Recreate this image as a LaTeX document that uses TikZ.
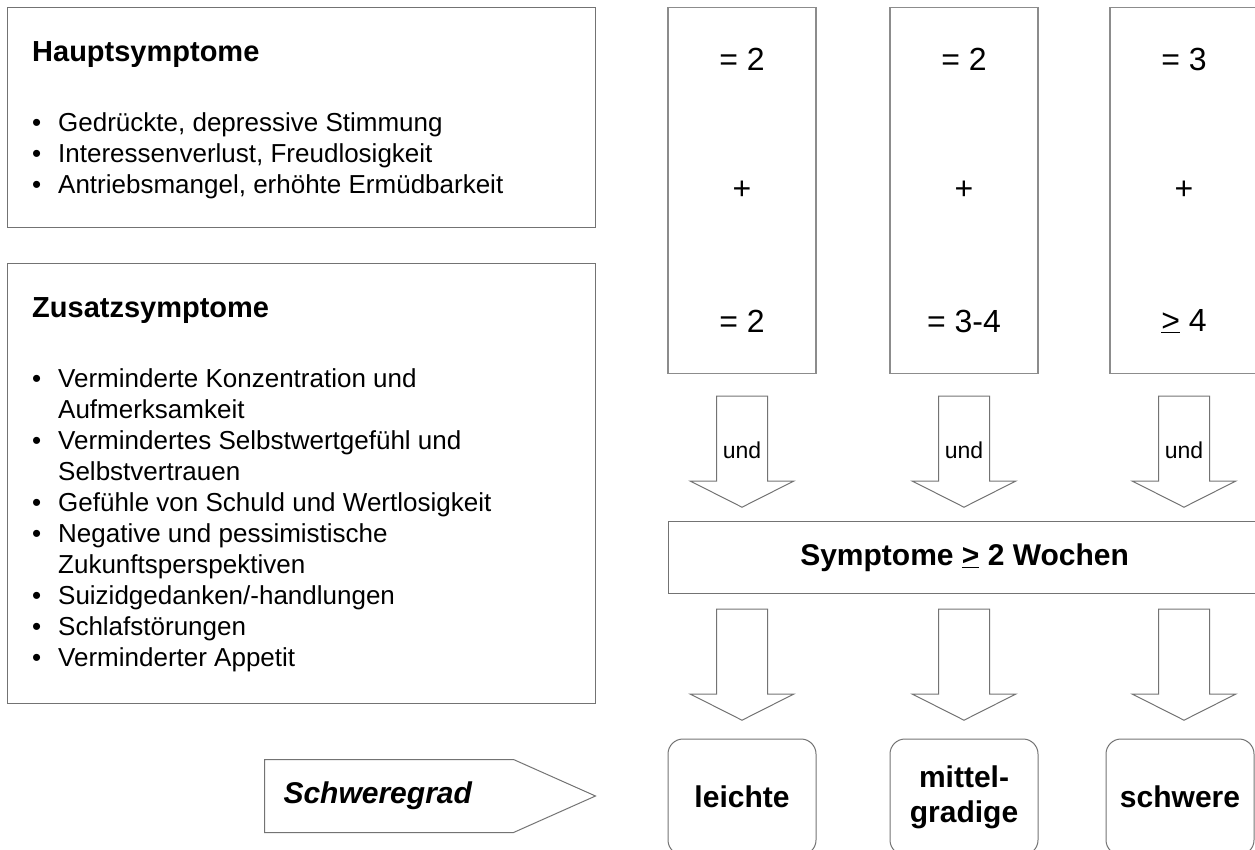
\documentclass[tikz,border=0pt]{standalone}
\usepackage{fontspec}
\setmainfont{Liberation Sans}
\usetikzlibrary{positioning,shapes.symbols}

\newcommand{\titlefont}{\fontsize{29}{34}\selectfont\bfseries}
\newcommand{\bodyfont}{\fontsize{26}{31}\selectfont}
\newcommand{\numfont}{\fontsize{32}{36}\selectfont}
\newcommand{\undfont}{\fontsize{23}{26}\selectfont}
\newcommand{\labelfont}{\fontsize{30}{35}\selectfont\bfseries}
\newcommand{\bul}{\makebox[26pt][l]{\textbullet}}
\newcommand{\ind}{\hspace*{26pt}}
\newcommand{\ugt}{\underline{>}}

\tikzset{
  textbox/.style={draw=black!55, line width=1.2pt, anchor=north west, inner sep=0pt},
  colbox/.style={draw=black!45, line width=1.2pt, anchor=north,
    minimum width=148pt, minimum height=366pt, inner sep=0pt},
  grade/.style={draw=black!55, line width=1pt, rounded corners=15pt,
    minimum width=148pt, minimum height=116pt, align=center, font=\labelfont},
  txtline/.style={anchor=base west, inner sep=0pt, align=left},
  bigarrow/.pic={
    \draw[draw=black!55, line width=1pt] (-25.5,0) -- (25.5,0) -- (25.5,85)
      -- (51.5,85) -- (0,111) -- (-51.5,85) -- (-25.5,85) -- cycle;
  },
}

\begin{document}
\begin{tikzpicture}[x=1pt,y=-1pt]
  \useasboundingbox (0,0) rectangle (1255,849);

  % left: symptom lists
  \node[textbox, minimum width=588pt, minimum height=220pt] (haupt) at (7,7) {};
  \node[txtline, font=\titlefont] (hauptTitle) at (32,61) {Hauptsymptome};
  \node[txtline, font=\bodyfont] (hauptList) at (32,131) {%
    \begin{tabular}[t]{@{}l@{}}
      \bul Gedrückte, depressive Stimmung\\
      \bul Interessenverlust, Freudlosigkeit\\
      \bul Antriebsmangel, erhöhte Ermüdbarkeit
    \end{tabular}};

  \node[textbox, minimum width=588pt, minimum height=440pt] (zusatz) at (7,263) {};
  \node[txtline, font=\titlefont] (zusatzTitle) at (32,317) {Zusatzsymptome};
  \node[txtline, font=\bodyfont] (zusatzList) at (32,387) {%
    \begin{tabular}[t]{@{}l@{}}
      \bul Verminderte Konzentration und\\
      \ind Aufmerksamkeit\\
      \bul Vermindertes Selbstwertgefühl und\\
      \ind Selbstvertrauen\\
      \bul Gefühle von Schuld und Wertlosigkeit\\
      \bul Negative und pessimistische\\
      \ind Zukunftsperspektiven\\
      \bul Suizidgedanken/-handlungen\\
      \bul Schlafstörungen\\
      \bul Verminderter Appetit
    \end{tabular}};

  % right: columns
  \node[textbox, minimum width=592pt, minimum height=72pt, font=\labelfont]
    (sympt) at (668,521) {Symptome \ugt\ 2 Wochen};

  \foreach \x/\numA/\numB [count=\i] in {742/{= 2}/{= 2}, 964/{= 2}/{= 3-4}, 1184/{= 3}/{\ugt\ 4}} {
    \node[colbox] (col\i) at (\x,7) {};
    \node[font=\numfont] (top\i) at (\x,59) {\numA};
    \node[font=\numfont] (plus\i) at (\x,190) {+};
    \node[font=\numfont] (bot\i) at (\x,321) {\numB};
    \pic at ([yshift=-22pt]col\i.south) {bigarrow};
    \node[font=\undfont] (und\i) at (\x,450) {und};
    \pic at ([yshift=-15pt]sympt.south -| col\i.south) {bigarrow};
  }

  \node[grade] (leichte) at (742,797) {leichte};
  \node[grade] (mittel) at (964,797) {mittel-\\gradige};
  \node[grade] (schwer) at (1180,797) {schwere};

  \node[signal, signal to=east, signal pointer angle=48, draw=black!55, line width=1pt,
    minimum width=331pt, minimum height=73pt, anchor=west, inner sep=0pt]
    (schwere) at (264,796) {};
  \node[font=\labelfont\itshape, right=16pt of schwere.west] (schwereText) {Schweregrad};
\end{tikzpicture}
\end{document}
